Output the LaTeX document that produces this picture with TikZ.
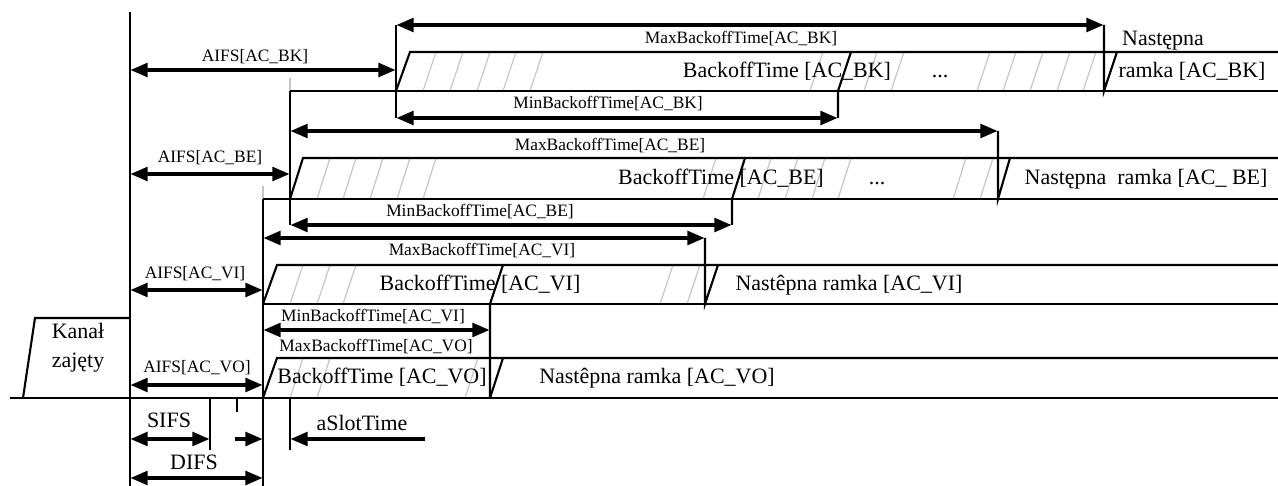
\documentclass[tikz,border=0pt]{standalone}
\usepackage{fontspec}
\setmainfont{Liberation Serif}
\usetikzlibrary{arrows.meta}
\begin{document}
\begin{tikzpicture}[x=0.02cm,y=-0.02cm,
        frame/.style={line width=1.2pt},
        hatch/.style={gray!45, line width=0.7pt},
        dim/.style={line width=2.6pt, {Triangle[length=10pt,width=7.5pt]}-{Triangle[length=10pt,width=7.5pt]}},
        big/.style={font=\fontsize{12.5}{16.4}\selectfont, inner sep=0pt, text height=1.6ex, text depth=.3ex},
        small/.style={font=\fontsize{9.9}{12}\selectfont, inner sep=0pt, text height=1.6ex, text depth=.3ex}]
    \useasboundingbox (0,0) rectangle (1278,486);
    % hatching of the slots
    \foreach \x in {423,450,477,503,530,810,864,891,977,1003,1030,1057,1083}
        \draw[hatch] (\x,91) -- (\x+13,52);
    \foreach \x in {317,343,370,397,423,703,758,785,812,838,953,980}
        \draw[hatch] (\x,199) -- (\x+13,158);
    \foreach \x in {290,317,343,660,687}
        \draw[hatch] (\x,304) -- (\x+13,265);
    \foreach \x in {290,317,465}
        \draw[hatch] (\x,398) -- (\x+13,358);
    \draw[hatch, line width=1.2pt] (290,78) -- (290,91);
    \draw[hatch, line width=1.2pt] (263,186) -- (263,199);
    % medium busy
    \draw[frame] (130,12) -- (130,486);
    \draw[frame] (10,398) -- (1278,398);
    \draw[frame] (23,398) -- (35,318) -- (130,318);
    \node[big, align=center] (kanal) at (78,362) {Kanał\\zajęty};
    % AC_BK
    \draw[frame] (396,25) -- (396,118);
    \draw[frame] (396,91) -- (410,52) -- (1278,52);
    \draw[frame] (290,91) -- (1278,91);
    \draw[frame] (838,118) -- (838,91) -- (851,52);
    \draw[frame] (1104,25) -- (1104,91) -- (1117,52);
    \draw[dim] (396,25) -- (1104,25);
    \draw[dim] (130,70) -- (396,70);
    \draw[dim] (396,118) -- (838,118);
    \node[small] (maxbk) at (741,38) {MaxBackoffTime[AC\_BK]};
    \node[small] (aifsbk) at (255,56) {AIFS[AC\_BK]};
    \node[small] (minbk) at (608,103) {MinBackoffTime[AC\_BK]};
    \node[big] (tbk) at (787,72) {BackoffTime [AC\_BK]};
    \node[big] (dotsbk) at (940,72) {...};
    \node[big] (nextbk1) at (1163,40) {Następna};
    \node[big] (nextbk2) at (1192,72) {ramka [AC\_BK]};
    % AC_BE
    \draw[frame] (290,91) -- (290,225);
    \draw[frame] (290,199) -- (303,158) -- (1278,158);
    \draw[frame] (263,199) -- (1278,199);
    \draw[frame] (732,225) -- (732,199) -- (745,158);
    \draw[frame] (998,131) -- (998,199) -- (1010,158);
    \draw[dim] (290,131) -- (998,131);
    \draw[dim] (130,174) -- (290,174);
    \draw[dim] (290,225) -- (732,225);
    \node[small] (maxbe) at (610,145) {MaxBackoffTime[AC\_BE]};
    \node[small] (aifsbe) at (210,157) {AIFS[AC\_BE]};
    \node[small] (minbe) at (480,211) {MinBackoffTime[AC\_BE]};
    \node[big] (tbe) at (721,179) {BackoffTime [AC\_BE]};
    \node[big] (dotsbe) at (877,179) {...};
    \node[big] (nextbe) at (1146,179) {Następna~~ramka [AC\_ BE]};
    % AC_VI
    \draw[frame] (263,199) -- (263,486);
    \draw[frame] (263,304) -- (277,265) -- (1278,265);
    \draw[frame] (263,304) -- (1278,304);
    \draw[frame] (490,398) -- (490,304) -- (503,265);
    \draw[frame] (705,238) -- (705,304) -- (718,265);
    \draw[dim] (263,238) -- (705,238);
    \draw[dim] (130,290) -- (263,290);
    \draw[dim] (263,330) -- (490,330);
    \node[small] (maxvi) at (482,250) {MaxBackoffTime[AC\_VI]};
    \node[small] (aifsvi) at (195,273) {AIFS[AC\_VI]};
    \node[small] (minvi) at (373,316) {MinBackoffTime[AC\_VI]};
    \node[big] (tvi) at (480,285) {BackoffTime [AC\_VI]};
    \node[big] (nextvi) at (849,285) {Nastêpna ramka [AC\_VI]};
    % AC_VO
    \draw[frame] (263,398) -- (277,358) -- (1278,358);
    \draw[frame] (490,398) -- (503,358);
    \draw[dim] (130,385) -- (263,385);
    \node[small] (maxvo) at (376,346) {MaxBackoffTime[AC\_VO]};
    \node[small] (aifsvo) at (197,367) {AIFS[AC\_VO]};
    \node[big] (tvo) at (382,378) {BackoffTime [AC\_VO]};
    \node[big] (nextvo) at (657,378) {Nastêpna ramka [AC\_VO]};
    % SIFS, DIFS, aSlotTime
    \draw[frame] (210,398) -- (210,450);
    \draw[frame] (237,398) -- (237,412);
    \draw[frame] (290,398) -- (290,450);
    \draw[dim] (130,439) -- (210,439);
    \draw[dim, {-Triangle[length=10pt,width=7.5pt]}] (235,439) -- (263,439);
    \draw[dim, {-Triangle[length=10pt,width=7.5pt]}] (425,439) -- (290,439);
    \draw[dim] (130,478) -- (263,478);
    \node[big] (sifs) at (169,422) {SIFS};
    \node[big] (aslot) at (362,425) {aSlotTime};
    \node[big] (difs) at (194,464) {DIFS};
\end{tikzpicture}
\end{document}
